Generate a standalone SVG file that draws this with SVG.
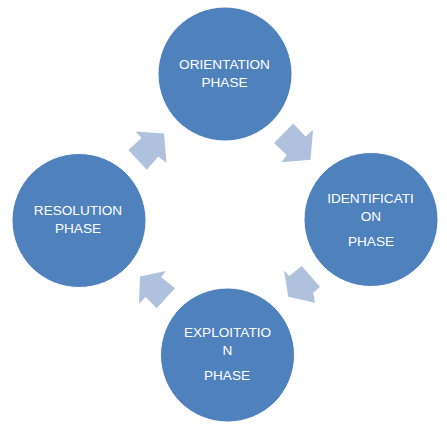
<svg xmlns="http://www.w3.org/2000/svg" width="447" height="427" viewBox="0 0 447 427">
<style>
.node{fill:#4F81BD;stroke:#FFFFFF;stroke-width:1}
.lbl{font-family:"Liberation Sans",Arial,sans-serif;font-size:13.6px;fill:#FFFFFF;text-anchor:middle}
.arr{fill:#B0C1DE}
</style>
<rect width="447" height="427" fill="#FFFFFF"/>
<g id="connectors">
<polygon class="arr" points="293.3,123.5 274,143 286.7,155 281.5,162.2 310.5,159.8 313,130 305.5,136.4"/>
<polygon class="arr" points="301.7,266 320,286.7 313.3,292.7 315,302.7 288.3,296.7 284,270.7 289.3,276"/>
<polygon class="arr" points="175,288.3 156.7,308.3 145.7,297 139,303.7 140,276.5 166,271 161,277"/>
<polygon class="arr" points="128.3,150 146.7,169.8 158.3,156.5 166.5,163 164,133.5 135.5,131.5 141.5,138"/>
</g>
<g id="orientation">
<circle class="node" cx="225" cy="74" r="67"/>
<text class="lbl" x="224.5" y="69">ORIENTATION</text>
<text class="lbl" x="224.5" y="87">PHASE</text>
</g>
<g id="identification">
<circle class="node" cx="371" cy="219.5" r="67"/>
<text class="lbl" x="370.5" y="203.3">IDENTIFICATI</text>
<text class="lbl" x="371" y="221">ON</text>
<text class="lbl" x="371" y="246">PHASE</text>
</g>
<g id="exploitation">
<circle class="node" cx="227.5" cy="355" r="67"/>
<text class="lbl" x="227.5" y="336.7">EXPLOITATIO</text>
<text class="lbl" x="227.5" y="355">N</text>
<text class="lbl" x="227" y="380">PHASE</text>
</g>
<g id="resolution">
<circle class="node" cx="79" cy="220.5" r="67"/>
<text class="lbl" x="78" y="215">RESOLUTION</text>
<text class="lbl" x="78" y="232.7">PHASE</text>
</g>
</svg>
